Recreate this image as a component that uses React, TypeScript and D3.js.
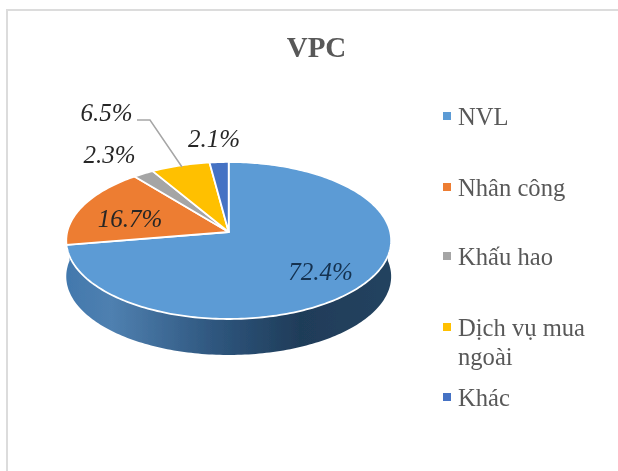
import React from "react";
import * as d3 from "d3";

const title = "VPC";
const categories = ["NVL", "Nhân công", "Khấu hao", "Dịch vụ mua ngoài", "Khác"];
const values = [72.4, 16.7, 2.3, 6.5, 2.1];
const valueLabels = ["72.4%", "16.7%", "2.3%", "6.5%", "2.1%"];
const colors = ["#5B9BD5", "#ED7D31", "#A5A5A5", "#FFC000", "#4472C4"];

const W = 618, H = 471;
const serif = "'Liberation Serif', 'Times New Roman', serif";
const hub = { x: 228.7, y: 232 };
const K = 161.5, Ky = 77.6, persp = -0.108, depth = 36;

// Tilted-disc projection of an angle (clockwise from 12 o'clock)
const project = (a: number): [number, number] => {
  const u = Math.sin(a), v = -Math.cos(a), w = 1 + persp * v;
  return [hub.x + (K * u) / w, hub.y + (Ky * v) / w];
};
const sample = (a0: number, a1: number) => {
  const n = Math.max(2, Math.ceil(Math.abs(a1 - a0) / 0.02));
  return d3.range(n + 1).map((i) => project(a0 + ((a1 - a0) * i) / n));
};
const line = d3.line();
const arcs = d3.pie<number>().sort(null)(values);

const labelPos: [number, number][] = [[320.5, 280], [130, 227], [109.5, 163], [106.5, 121], [214, 147]];
const legendRows: { lines: string[]; y: number }[] = [
  { lines: [categories[0]], y: 125 },
  { lines: [categories[1]], y: 196 },
  { lines: [categories[2]], y: 265 },
  { lines: ["Dịch vụ mua", "ngoài"], y: 336 },
  { lines: [categories[4]], y: 406 },
];

// Lower rim, from the widest right point round to the widest left point
const rim = sample(Math.PI * 0.47, Math.PI * 1.53);
const sidePts: [number, number][] = [
  ...rim,
  ...[...rim].reverse().map(([x, y]) => [x, y + depth] as [number, number]),
];

export default function App() {
  return (
    <svg width={W} height={H} viewBox={`0 0 ${W} ${H}`}
      style={{ position: "absolute", left: 0, top: 0, background: "#fff" }}>
      <defs>
        <linearGradient id="side" gradientUnits="userSpaceOnUse" x1={66} x2={391} y1={0} y2={0}>
          <stop offset="0" stopColor="#4278ad" />
          <stop offset="0.14" stopColor="#4f80b0" />
          <stop offset="0.45" stopColor="#2f577f" />
          <stop offset="0.72" stopColor="#1f3c59" />
          <stop offset="1" stopColor="#24435f" />
        </linearGradient>
        <filter id="soft" x="-5%" y="-5%" width="110%" height="110%">
          <feGaussianBlur stdDeviation="0.45" />
        </filter>
      </defs>
      <g filter="url(#soft)">
        <path d={`M7 ${H}V10H${W}`} fill="none" stroke="#dcdcdc" strokeWidth={2} />
        <text x={316.5} y={57} textAnchor="middle" fontFamily={serif} fontWeight={700} fontSize={29} fill="#595959">{title}</text>

        <path d={line(sidePts) + "Z"} fill="url(#side)" />
        {arcs.map((d, i) => (
          <path key={i}
            d={line([[hub.x, hub.y], ...sample(d.startAngle, d.endAngle)]) + "Z"}
            fill={colors[i]} stroke="#fff" strokeWidth={1.8} strokeLinejoin="round" />
        ))}

        <path d="M137 120H150L182 167" fill="none" stroke="#a6a6a6" strokeWidth={1.5} />
        {valueLabels.map((t, i) => (
          <text key={t} x={labelPos[i][0]} y={labelPos[i][1]} textAnchor="middle"
            fontFamily={serif} fontStyle="italic" fontSize={25}
            fill={i === 0 ? "#14304f" : "#262626"}>{t}</text>
        ))}

        {legendRows.map((r, i) => (
          <g key={i}>
            <rect x={443} y={r.y - 13} width={8} height={8} fill={colors[i]} />
            {r.lines.map((l, j) => (
              <text key={l} x={458} y={r.y + j * 29} fontFamily={serif} fontSize={24.6} fill="#595959">{l}</text>
            ))}
          </g>
        ))}
      </g>
    </svg>
  );
}
